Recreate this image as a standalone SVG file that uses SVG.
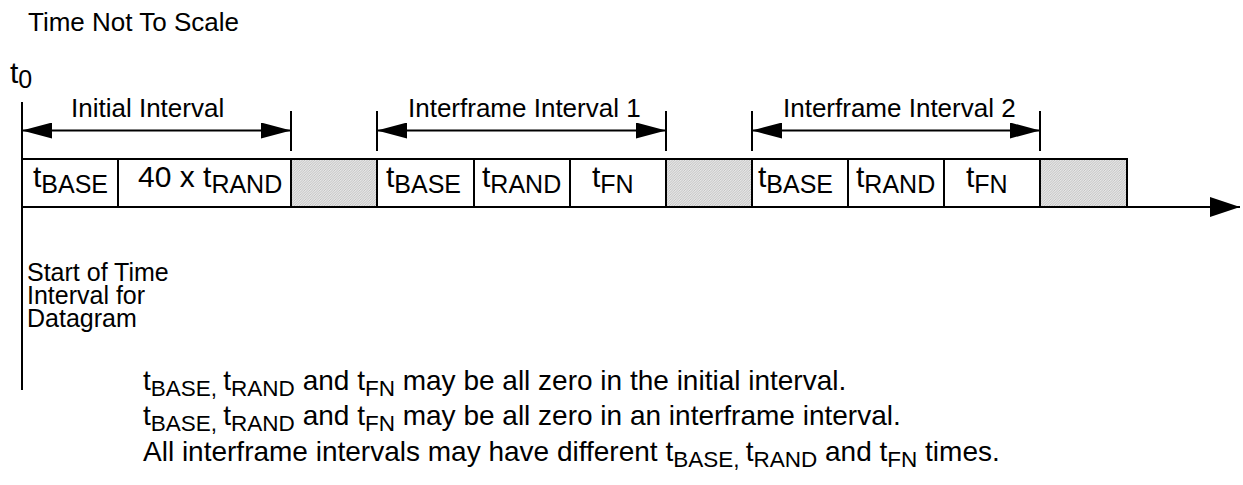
<svg xmlns="http://www.w3.org/2000/svg" width="1243" height="485" viewBox="0 0 1243 485">
<style>
text{font-family:"Liberation Sans",Arial,sans-serif;fill:#000}
.ln{stroke:#000;stroke-width:2;fill:none}
.cell{fill:#fff;stroke:#000;stroke-width:2}
.shade{fill:url(#hatch);stroke:#000;stroke-width:2}
.lbl{font-size:26px}
.ct{font-size:30px}
.cs{font-size:25px}
.nt{font-size:28px}
.ns{font-size:22.5px}
.side{font-size:25px}
</style>
<defs>
<pattern id="hatch" width="2.5" height="2.5" patternUnits="userSpaceOnUse">
<rect width="2.5" height="2.5" fill="#e6e6e6"/>
<path d="M-1,1 L1,-1 M0,2.5 L2.5,0 M1.5,3.5 L3.5,1.5" stroke="#b4b4b4" stroke-width="0.7"/>
</pattern>
<marker id="dim" markerUnits="userSpaceOnUse" viewBox="0 0 30 16" refX="30" refY="8" markerWidth="30" markerHeight="16" orient="auto-start-reverse">
<path d="M0,0 L30,8 L0,16 Z" fill="#000"/>
</marker>
<marker id="axis" markerUnits="userSpaceOnUse" viewBox="0 0 30 20" refX="30" refY="10" markerWidth="30" markerHeight="20" orient="auto">
<path d="M0,0 L30,10 L0,20 Z" fill="#000"/>
</marker>
</defs>

<g id="title"><text x="28" y="31" style="font-size:26px">Time Not To Scale</text></g>

<g id="t0"><text x="10" y="83" class="ct">t<tspan class="cs" dy="5">0</tspan></text></g>

<g id="connectors">
<line class="ln" x1="22" y1="102" x2="22" y2="390"/>
<line class="ln" x1="22" y1="207" x2="1240" y2="207" marker-end="url(#axis)"/>
<line class="ln" x1="22" y1="130.5" x2="291" y2="130.5" marker-start="url(#dim)" marker-end="url(#dim)"/>
<line class="ln" x1="377" y1="130.5" x2="666" y2="130.5" marker-start="url(#dim)" marker-end="url(#dim)"/>
<line class="ln" x1="752" y1="130.5" x2="1040" y2="130.5" marker-start="url(#dim)" marker-end="url(#dim)"/>
<line class="ln" x1="291" y1="111" x2="291" y2="151"/>
<line class="ln" x1="377" y1="111" x2="377" y2="151"/>
<line class="ln" x1="666" y1="111" x2="666" y2="151"/>
<line class="ln" x1="752" y1="111" x2="752" y2="151"/>
<line class="ln" x1="1040" y1="111" x2="1040" y2="151"/>
</g>

<g id="interval-labels">
<text class="lbl" x="71" y="117">Initial Interval</text>
<text class="lbl" x="408" y="117">Interframe Interval 1</text>
<text class="lbl" x="783" y="117">Interframe Interval 2</text>
</g>

<g id="initial-interval">
<rect class="cell" x="22" y="159" width="96" height="48"/>
<text x="33" y="187" class="ct">t<tspan class="cs" dy="6">BASE</tspan></text>
<rect class="cell" x="118" y="159" width="173" height="48"/>
<text x="138" y="187" class="ct">40 x t<tspan class="cs" dy="6">RAND</tspan></text>
</g>
<g id="gap-1"><rect class="shade" x="291" y="159" width="86" height="48"/></g>

<g id="interframe-interval-1">
<rect class="cell" x="377" y="159" width="97" height="48"/>
<text x="386" y="187" class="ct">t<tspan class="cs" dy="6">BASE</tspan></text>
<rect class="cell" x="474" y="159" width="96" height="48"/>
<text x="482" y="187" class="ct">t<tspan class="cs" dy="6">RAND</tspan></text>
<rect class="cell" x="570" y="159" width="96" height="48"/>
<text x="592" y="187" class="ct">t<tspan class="cs" dy="6">FN</tspan></text>
</g>
<g id="gap-2"><rect class="shade" x="666" y="159" width="86" height="48"/></g>

<g id="interframe-interval-2">
<rect class="cell" x="752" y="159" width="96" height="48"/>
<text x="758" y="187" class="ct">t<tspan class="cs" dy="6">BASE</tspan></text>
<rect class="cell" x="848" y="159" width="96" height="48"/>
<text x="856" y="187" class="ct">t<tspan class="cs" dy="6">RAND</tspan></text>
<rect class="cell" x="944" y="159" width="96" height="48"/>
<text x="966" y="187" class="ct">t<tspan class="cs" dy="6">FN</tspan></text>
</g>
<g id="gap-3"><rect class="shade" x="1040" y="159" width="87" height="48"/></g>

<g id="start-note">
<text class="side" x="27" y="281">Start of Time</text>
<text class="side" x="27" y="304">Interval for</text>
<text class="side" x="27" y="327">Datagram</text>
</g>

<g id="notes">
<text class="nt" x="143" y="390">t<tspan class="ns" dy="6">BASE, </tspan><tspan dy="-6">t</tspan><tspan class="ns" dy="6">RAND</tspan><tspan dy="-6"> and t</tspan><tspan class="ns" dy="6">FN</tspan><tspan dy="-6"> may be all zero in the initial interval.</tspan></text>
<text class="nt" x="143" y="425">t<tspan class="ns" dy="6">BASE, </tspan><tspan dy="-6">t</tspan><tspan class="ns" dy="6">RAND</tspan><tspan dy="-6"> and t</tspan><tspan class="ns" dy="6">FN</tspan><tspan dy="-6"> may be all zero in an interframe interval.</tspan></text>
<text class="nt" x="143" y="461">All interframe intervals may have different t<tspan class="ns" dy="6">BASE, </tspan><tspan dy="-6">t</tspan><tspan class="ns" dy="6">RAND</tspan><tspan dy="-6"> and t</tspan><tspan class="ns" dy="6">FN</tspan><tspan dy="-6"> times.</tspan></text>
</g>
</svg>
